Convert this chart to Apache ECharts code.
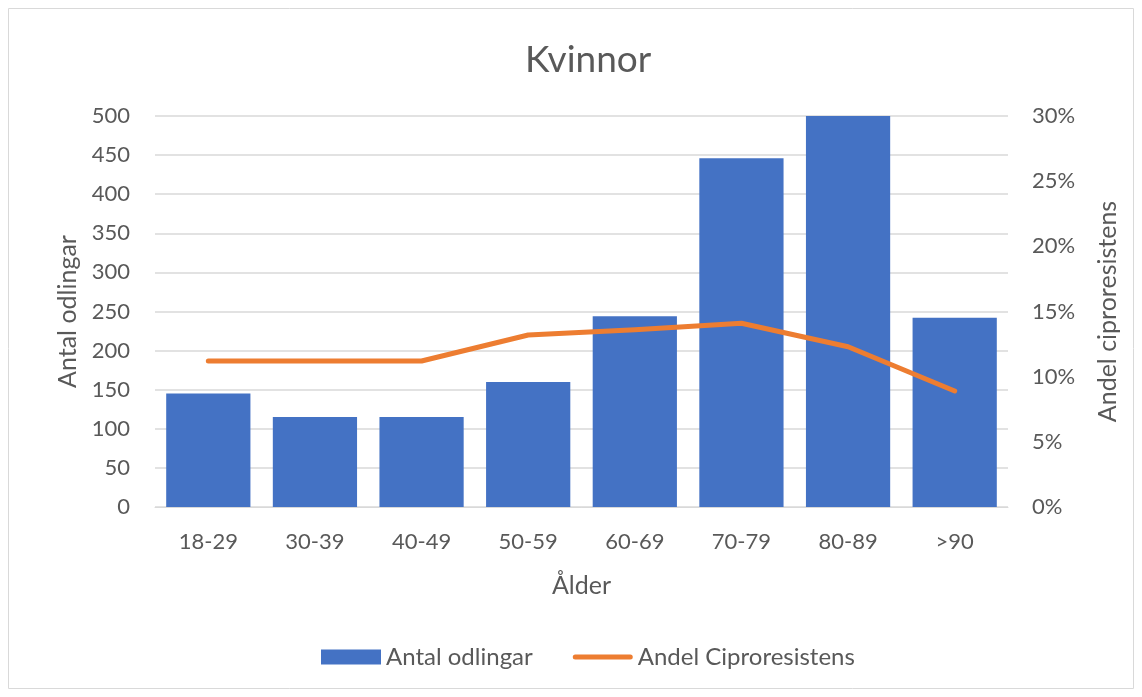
<!DOCTYPE html>
<html><head><meta charset="utf-8">
<script src="https://cdn.jsdelivr.net/npm/echarts@6/dist/echarts.min.js"></script>
<style>html,body{margin:0;padding:0;background:#fff}#c{width:1142px;height:697px}</style>
</head><body><div id="c"></div>
<script>
const categories = ['18-29','30-39','40-49','50-59','60-69','70-79','80-89','>90'];
const antalOdlingar = [145, 115, 115, 160, 244, 446, 501, 242];
const andelCipro = [11.2, 11.2, 11.2, 13.2, 13.6, 14.1, 12.3, 8.9];
const F = 'Lato, "Open Sans", sans-serif';
const C = '#595959';
const chart = echarts.init(document.getElementById('c'));
chart.setOption({
  animation: false,
  graphic: [{type:'rect', shape:{x:8.5,y:8.5,width:1125,height:680}, style:{fill:'none', stroke:'#d9d9d9', lineWidth:1}, silent:true}],
  title: {text:'Kvinnor', left:520, top:37, textStyle:{fontFamily:F, fontSize:37, fontWeight:'normal', color:C}},
  legend: {bottom:23, left:316, itemGap:40, itemWidth:60, itemHeight:15, itemTextGap:4, textStyle:{fontFamily:F, fontSize:24, color:C},
    data:[{name:'Antal odlingar', icon:'rect'},
          {name:'Andel Ciproresistens', icon:'path://M2.5,0 L57.5,0 A2.5,2.5 0 0 1 57.5,5 L2.5,5 A2.5,2.5 0 0 1 2.5,0 Z', itemStyle:{color:'#ED7D31'}}]},
  grid: {left:155, right:134, top:116, bottom:190},
  xAxis: {type:'category', data:categories, name:'Ålder', nameLocation:'middle', nameGap:66,
    nameTextStyle:{fontFamily:F, fontSize:25, color:C},
    axisLine:{lineStyle:{color:'#d9d9d9'}}, axisTick:{show:false},
    axisLabel:{fontFamily:F, fontSize:22, color:C, margin:24}},
  yAxis: [
    {type:'value', min:0, max:500, interval:50, name:'Antal odlingar', nameLocation:'middle', nameGap:75, nameRotate:90,
     nameTextStyle:{fontFamily:F, fontSize:25, color:C},
     axisLine:{show:false}, axisTick:{show:false}, splitLine:{lineStyle:{color:'#d9d9d9', width:1.5}},
     axisLabel:{fontFamily:F, fontSize:22, color:C, margin:25}},
    {type:'value', min:0, max:30, interval:5, name:'Andel ciproresistens', nameLocation:'middle', nameGap:87, nameRotate:90,
     nameTextStyle:{fontFamily:F, fontSize:25, color:C},
     axisLine:{show:false}, axisTick:{show:false}, splitLine:{show:false},
     axisLabel:{fontFamily:F, fontSize:22, color:C, margin:24, formatter:'{value}%'}}
  ],
  series: [
    {name:'Antal odlingar', type:'bar', data:antalOdlingar, barCategoryGap:'21%', itemStyle:{color:'#4472C4'}},
    {name:'Andel Ciproresistens', type:'line', yAxisIndex:1, data:andelCipro, symbol:'none', lineStyle:{color:'#ED7D31', width:5, cap:'round', join:'round'}, itemStyle:{color:'#ED7D31'}}
  ]
});
</script></body></html>
